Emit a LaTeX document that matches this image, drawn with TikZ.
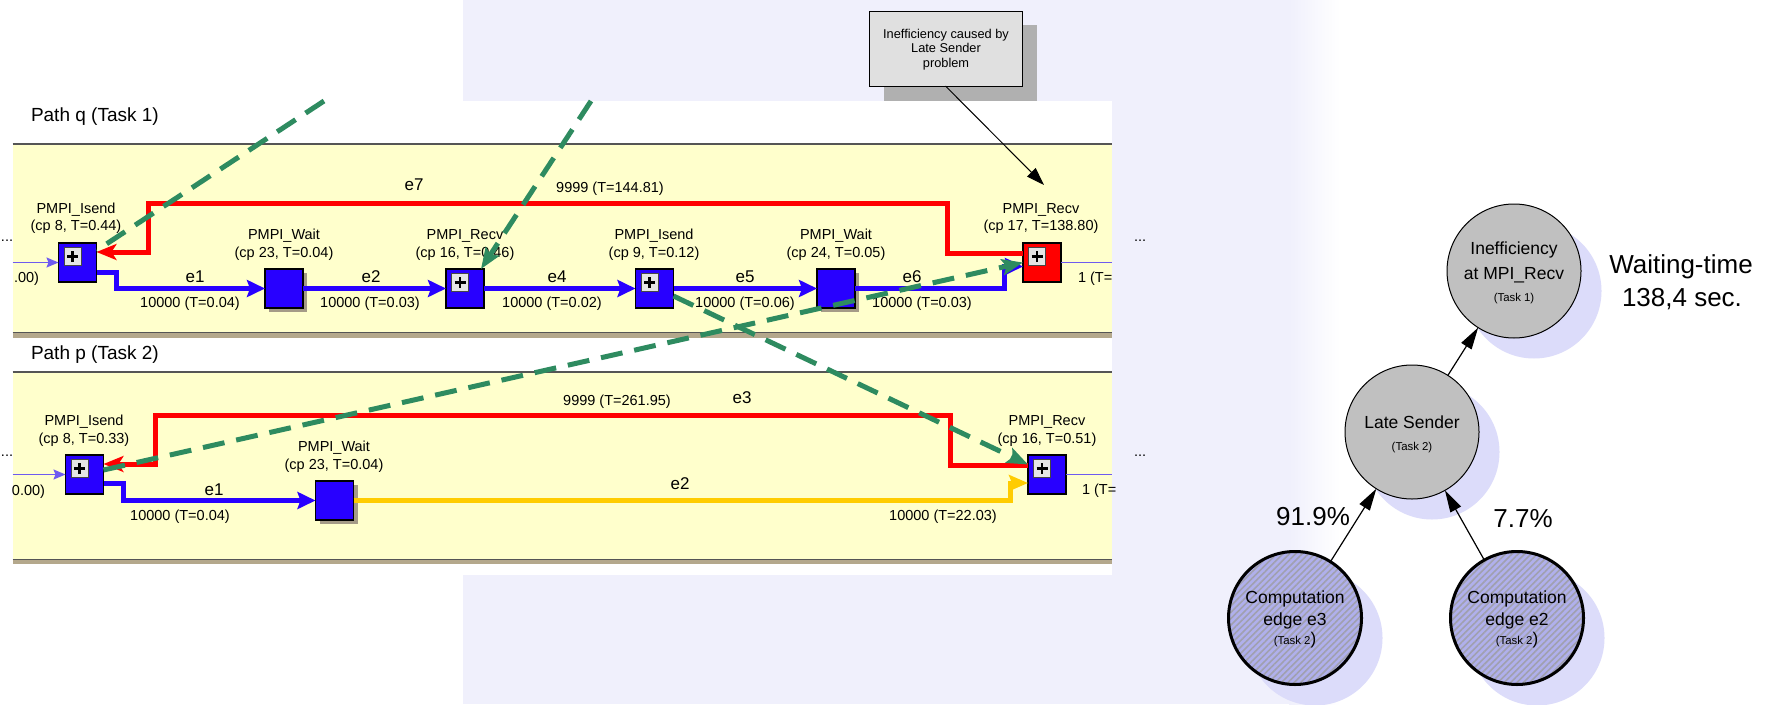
\documentclass[tikz,border=0pt]{standalone}
\usepackage{fontspec}
\setmainfont{Liberation Sans}
\usetikzlibrary{arrows.meta,calc,patterns.meta,shadows}
\newcommand{\myfs}[1]{\fontsize{#1pt}{#1pt}\selectfont}
\definecolor{panelyellow}{RGB}{255,255,204}
\definecolor{flowblue}{RGB}{40,0,255}
\definecolor{thinblue}{RGB}{110,90,240}
\definecolor{flowred}{RGB}{255,0,0}
\definecolor{flowyellow}{RGB}{255,204,0}
\definecolor{dashgreen}{RGB}{46,139,96}
\definecolor{tanband}{RGB}{180,168,140}
\definecolor{panelline}{RGB}{85,85,85}
\definecolor{lav}{RGB}{240,240,252}
\definecolor{shadowlav}{RGB}{220,220,250}
\definecolor{circgray}{RGB}{192,192,192}
\definecolor{hatchbase}{RGB}{176,176,236}
\definecolor{hatchline}{RGB}{160,160,175}
\definecolor{calloutgray}{RGB}{224,224,224}
\definecolor{calloutshadow}{RGB}{176,176,176}
\definecolor{boxshadow}{RGB}{165,155,135}
\begin{document}
\begin{tikzpicture}[x=1pt,y=-1pt,
  lbl/.style={anchor=base,font=\myfs{14.5},inner sep=0,outer sep=0},
  elbl/.style={anchor=base,font=\myfs{17},inner sep=0,outer sep=0},
  ttl/.style={anchor=base west,font=\myfs{19},inner sep=0,outer sep=0},
  ctext/.style={anchor=base,font=\myfs{12.8},inner sep=0,outer sep=0},
  big/.style={anchor=base,font=\myfs{17.5},inner sep=0,outer sep=0},
  small/.style={anchor=base,font=\myfs{11.4},inner sep=0,outer sep=0},
  huge/.style={anchor=base,font=\myfs{26},inner sep=0,outer sep=0},
  fbox/.style={draw=black,line width=1.3pt,fill=flowblue,minimum width=38pt,minimum height=39pt,inner sep=0,outer sep=0},
  waitshadow/.style={drop shadow={shadow xshift=4pt,shadow yshift=-4pt,fill=boxshadow,opacity=1}},
  plusbtn/.style={draw=gray!55!black,line width=0.8pt,fill=gray!20,minimum width=17pt,minimum height=18pt,inner sep=0,outer sep=0,
     path picture={\draw[line width=2.4pt,black] ([xshift=-5.5pt]path picture bounding box.center) -- ([xshift=5.5pt]path picture bounding box.center);
                   \draw[line width=2.4pt,black] ([yshift=-5.5pt]path picture bounding box.center) -- ([yshift=5.5pt]path picture bounding box.center);}},
  blueflow/.style={draw=flowblue,line width=5pt,-{Stealth[length=18pt,width=17pt,inset=3pt]}},
  redflow/.style={draw=flowred,line width=5pt,-{Stealth[length=20pt,width=16pt,inset=5pt]}},
  yellowflow/.style={draw=flowyellow,line width=5pt,-{Stealth[length=19pt,width=16pt,inset=3pt]}},
  thinflow/.style={draw=thinblue,line width=1.5pt},
  thinarrow/.style={thinflow,-{Stealth[length=12pt,width=10pt,inset=2pt]}},
  msg/.style={draw=dashgreen,line width=5pt,dash pattern=on 22pt off 12pt},
  msgarrow/.style={msg,-{Stealth[length=21pt,width=16pt,inset=4pt]}},
  callarrow/.style={draw=black,line width=1pt,-{Triangle[length=18pt,width=12pt]}},
  circ/.style={circle,draw=black,line width=1pt,fill=circgray,minimum size=134pt,inner sep=0,outer sep=0},
  hcirc/.style={circle,draw=black,line width=3pt,minimum size=133pt,inner sep=0,outer sep=0,
     preaction={fill=hatchbase},pattern={Lines[angle=45,distance=4.5pt,line width=1.6pt]},pattern color=hatchline},
  csh/.style={circle,fill=shadowlav,minimum size=135pt,inner sep=0,outer sep=0},
  treearrow/.style={draw=black,line width=1.2pt,-{Triangle[length=22pt,width=12pt]}}
]
\useasboundingbox (0,0) rectangle (1766,704);
\fill[white] (0,0) rectangle (1766,704);
% faint background
\fill[lav] (463,0) rectangle (1290,704);
\shade[left color=lav,right color=white] (1289,0) rectangle (1340,704);

% callout
\fill[calloutshadow] (884,25) rectangle (1037,102);
\node[draw=black,line width=0.9pt,fill=calloutgray,minimum width=153pt,minimum height=75pt,inner sep=0,outer sep=0] (cb) at (945.5,48.5) {};
\node[ctext] (cbt1) at (946,38) {Inefficiency caused by};
\node[ctext] (cbt2) at (946,52.5) {Late Sender};
\node[ctext] (cbt3) at (946,67) {problem};

% screenshot area
\fill[white] (0,101) rectangle (1112,575);
\fill[panelyellow] (12.5,143) rectangle (1112,332);
\draw[panelline,line width=2pt] (12.5,144) -- (1112,144);
\fill[tanband] (12.5,333) rectangle (1112,338);
\draw[panelline,line width=1.6pt] (12.5,332.5) -- (1112,332.5);
\fill[panelyellow] (12.5,371) rectangle (1112,559);
\draw[panelline,line width=2pt] (12.5,372) -- (1112,372);
\fill[tanband] (12.5,560) rectangle (1112,564);
\draw[panelline,line width=1.6pt] (12.5,559.5) -- (1112,559.5);

\node[ttl] (ptq) at (31,121) {Path q (Task 1)};
\node[ttl] (ptp) at (31,359) {Path p (Task 2)};
\node[lbl,anchor=base west] (dq1) at (1,241) {...};
\node[lbl,anchor=base west] (dp1) at (1,456) {...};
\node[lbl,anchor=base west] (dq2) at (1134,241) {...};
\node[lbl,anchor=base west] (dp2) at (1134,456) {...};

% labels path q
\node[lbl] (a1) at (76,213) {PMPI\_Isend};
\node[lbl] (a2) at (76,230) {(cp 8, T=0.44)};
\node[lbl] (a3) at (284,239) {PMPI\_Wait};
\node[lbl] (a4) at (284,257) {(cp 23, T=0.04)};
\node[lbl] (a5) at (465,239) {PMPI\_Recv};
\node[lbl] (a6) at (465,257) {(cp 16, T=0.46)};
\node[lbl] (a7) at (654,239) {PMPI\_Isend};
\node[lbl] (a8) at (654,257) {(cp 9, T=0.12)};
\node[lbl] (a9) at (836,239) {PMPI\_Wait};
\node[lbl] (a10) at (836,257) {(cp 24, T=0.05)};
\node[lbl] (a11) at (1041,213) {PMPI\_Recv};
\node[lbl] (a12) at (1041,230) {(cp 17, T=138.80)};
\node[elbl] (e7q) at (414,190) {e7};
\node[lbl] (n7q) at (610,192) {9999 (T=144.81)};
\node[elbl] (e1q) at (195,282) {e1};
\node[lbl] (n1q) at (190,307) {10000 (T=0.04)};
\node[elbl] (e2q) at (371,282) {e2};
\node[lbl] (n2q) at (370,307) {10000 (T=0.03)};
\node[elbl] (e4q) at (557,282) {e4};
\node[lbl] (n4q) at (552,307) {10000 (T=0.02)};
\node[elbl] (e5q) at (745,282) {e5};
\node[lbl] (n5q) at (745,307) {10000 (T=0.06)};
\node[elbl] (e6q) at (912,282) {e6};
\node[lbl] (n6q) at (922,307) {10000 (T=0.03)};
\node[lbl,anchor=base east] (lq) at (39,282) {.00)};
\node[lbl,anchor=base west] (rqt) at (1078,282) {1 (T=};
% labels path p
\node[lbl] (b1) at (84,425) {PMPI\_Isend};
\node[lbl] (b2) at (84,443) {(cp 8, T=0.33)};
\node[lbl] (b3) at (334,451) {PMPI\_Wait};
\node[lbl] (b4) at (334,469) {(cp 23, T=0.04)};
\node[lbl] (b5) at (1047,425) {PMPI\_Recv};
\node[lbl] (b6) at (1047,443) {(cp 16, T=0.51)};
\node[lbl] (n3p) at (617,405) {9999 (T=261.95)};
\node[elbl] (e3p) at (742,403) {e3};
\node[elbl] (e1p) at (214,495) {e1};
\node[lbl] (n1p) at (180,520) {10000 (T=0.04)};
\node[elbl] (e2p) at (680,489) {e2};
\node[lbl] (n2p) at (943,520) {10000 (T=22.03)};
\node[lbl,anchor=base east] (lp) at (45,495) {0.00)};
\node[lbl,anchor=base west] (rpt) at (1082,494) {1 (T=};

% boxes
\node[fbox] (iq1) at (77.5,262.5) {};
\node[fbox,waitshadow] (wq1) at (284,288.5) {};
\node[fbox] (rq1) at (465,288.5) {};
\node[fbox] (iq2) at (654.5,288.5) {};
\node[fbox,waitshadow] (wq2) at (836,288.5) {};
\node[fbox,fill=flowred] (rq2) at (1042,262.5) {};
\node[fbox] (ip1) at (84.5,474.5) {};
\node[fbox,waitshadow] (wp) at (334.5,500.5) {};
\node[fbox] (rp) at (1047,474.5) {};
\foreach \b in {iq1,rq1,iq2,rq2,ip1,rp}
  \node[plusbtn] (\b btn) at ($(\b.north west)+(14,13.5)$) {};

% connectors path q
\coordinate (inq) at (12.5,262.5);
\coordinate (outq) at (1112,262.5);
\draw[thinarrow] (inq) -- (iq1.west);
\draw[thinflow] (rq2.east) -- (outq);
\draw[redflow] ($(rq2.west)+(0,-9.5)$) -- (947,253) |- (148,203) |- ($(iq1.east)+(0,-10.5)$);
\draw[blueflow] ($(iq1.east)+(0,9.5)$) -- (116,272) |- (wq1.west);
\draw[blueflow] (wq1.east) -- (rq1.west);
\draw[blueflow] (rq1.east) -- (iq2.west);
\draw[blueflow] (iq2.east) -- (wq2.west);
\draw[blueflow] (wq2.east) -- (1004,288.5) |- ($(rq2.west)+(0,4)$);
% connectors path p
\coordinate (inp) at (12.5,474.5);
\coordinate (outp) at (1112,474.5);
\draw[thinarrow] (inp) -- (ip1.west);
\draw[thinflow] (rp.east) -- (outp);
\draw[redflow] ($(rp.west)+(0,-9.5)$) -- (950,465) |- (155,415) |- ($(ip1.east)+(0,-10.5)$);
\draw[blueflow] ($(ip1.east)+(0,8.5)$) -- (123,483) |- (wp.west);
\draw[yellowflow] (wp.east) -- (1010,500.5) |- ($(rp.west)+(0,8.5)$);

% messages
\coordinate (g1s) at (324,101);
\coordinate (g2s) at (591,101);
\draw[msg] (g1s) -- ($(iq1.east)+(0,-12)$);
\draw[msgarrow] (g2s) -- ($(rq1.north east)+(-3,0)$);
\draw[msgarrow] ($(iq2.east)+(0,7.5)$) -- ($(rp.west)+(0,-10)$);
\draw[msgarrow] ($(ip1.east)+(0,-4.5)$) -- (rq2.west);

% callout arrow
\coordinate (ct) at (1044,185);
\draw[callarrow] (cb.south) -- (ct);

% tree
\node[csh] (tsh) at (1534,291) {};
\node[csh] (msh) at (1432,452) {};
\node[csh] (blsh) at (1315,638) {};
\node[csh] (brsh) at (1537,638) {};
\node[circ] (top) at (1514,271) {};
\node[circ] (mid) at (1412,432) {};
\node[hcirc] (bl) at (1295,618) {};
\node[hcirc] (br) at (1517,618) {};
\draw[treearrow] (bl) -- (mid);
\draw[treearrow] (br) -- (mid);
\draw[treearrow] (mid) -- (top);
\node[big] (tt1) at (1514,254.5) {Inefficiency};
\node[big] (tt2) at (1514,279.5) {at MPI\_Recv};
\node[small] (tt3) at (1514,301.5) {(Task 1)};
\node[big] (mt1) at (1412,428) {Late Sender};
\node[small] (mt2) at (1412,450.5) {(Task 2)};
\node[big] (bl1) at (1295,603.5) {Computation};
\node[big] (bl2) at (1295,625.5) {edge e3};
\node[anchor=base,inner sep=0,outer sep=0] (bl3) at (1295,644) {\myfs{11.4}(Task 2\myfs{17})};
\node[big] (br1) at (1517,603.5) {Computation};
\node[big] (br2) at (1517,625.5) {edge e2};
\node[anchor=base,inner sep=0,outer sep=0] (br3) at (1517,644) {\myfs{11.4}(Task 2\myfs{17})};
\node[huge] (wt1) at (1681,273.5) {Waiting-time};
\node[huge] (wt2) at (1682,306.5) {138,4 sec.};
\node[huge] (pc1) at (1313,525) {91.9\%};
\node[huge] (pc2) at (1523,527) {7.7\%};
\end{tikzpicture}
\end{document}
